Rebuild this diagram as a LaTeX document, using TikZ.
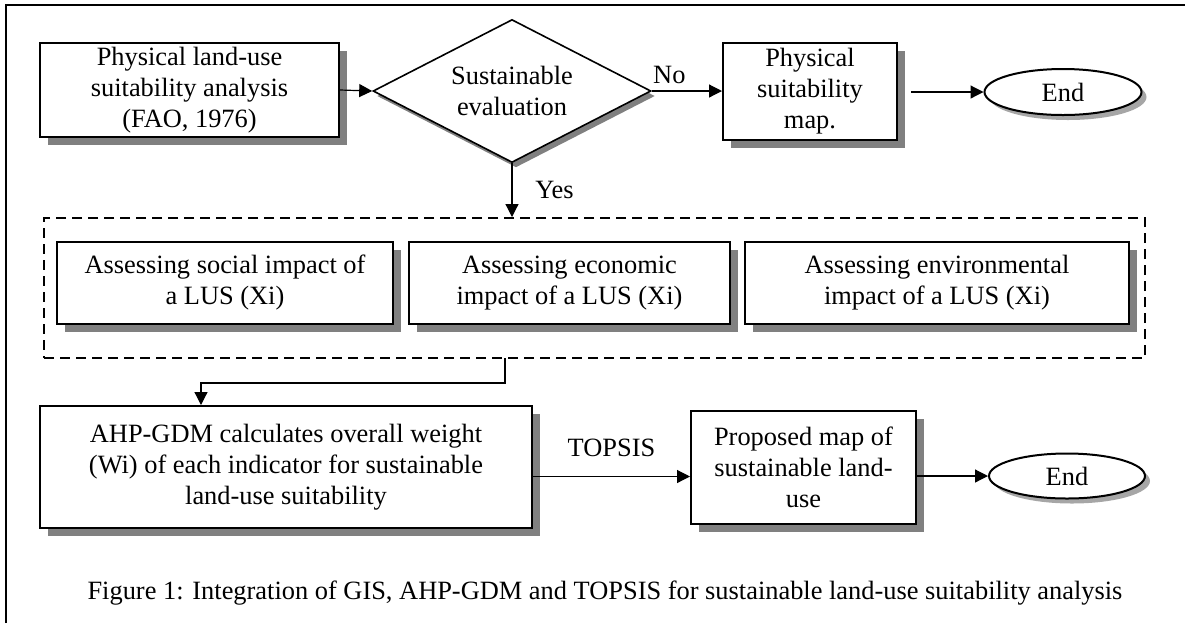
\documentclass[tikz,border=0pt]{standalone}
\usepackage{fontspec}
\setmainfont{Liberation Serif}
\usepackage{tikz}
\usetikzlibrary{shapes.geometric}
\usetikzlibrary{arrows.meta}
\usetikzlibrary{shadows}

\begin{document}
\begin{tikzpicture}[x=0.5pt,y=-0.5pt,font=\fontsize{13.2}{15.5}\selectfont]
		\tikzstyle{box}=[draw,line width=1pt,fill=white,align=center,inner sep=2pt,drop shadow={shadow xshift=4pt,shadow yshift=-4pt,fill=gray,opacity=1}]
		\tikzstyle{decision}=[draw,shape=diamond,line width=0.8pt,fill=white,align=center,aspect=2,inner sep=1pt,minimum width=139pt,minimum height=71.5pt,drop shadow={shadow xshift=2pt,shadow yshift=-2.5pt,fill=gray,opacity=1}]
		\tikzstyle{terminal}=[draw,shape=ellipse,line width=1pt,fill=white,minimum width=78.5pt,minimum height=23pt,inner sep=0pt,drop shadow={shadow xshift=2.5pt,shadow yshift=-2.5pt,fill=gray!70,opacity=1}]
		\tikzstyle{group}=[draw,line width=1pt,dash pattern=on 5pt off 3pt,minimum width=550.5pt,minimum height=70pt]
		\tikzstyle{arr}=[-{Triangle[length=6.5pt,width=6.5pt]},line width=0.6pt]
		
		\useasboundingbox (0,0) rectangle (1185,623);
		\draw[line width=1pt] (6,623) -- (6,5) -- (1185,5);
		
		\node[box,minimum width=149.5pt,minimum height=47pt](phys) at (189.5,90){Physical land-use\\suitability analysis\\(FAO, 1976)};
		\node[decision](sust) at (512,91){Sustainable\\evaluation};
		\node[box,minimum width=87pt,minimum height=48.5pt](map) at (810,91.5){Physical\\suitability\\map.};
		\node[terminal](end1) at (1063,92){End};
		
		\node[group](grp) at (594.5,288){};
		\node[box,minimum width=168pt,minimum height=41pt](soc) at (225,283){Assessing social impact of\\a LUS (Xi)};
		\node[box,minimum width=160.5pt,minimum height=41pt](eco) at (569.5,283){Assessing economic\\impact of a LUS (Xi)};
		\node[box,minimum width=192pt,minimum height=41pt](env) at (937,283){Assessing environmental\\impact of a LUS (Xi)};
		
		\node[box,minimum width=246pt,minimum height=61pt](ahp) at (286,467){AHP-GDM calculates overall weight\\(Wi) of each indicator for sustainable\\land-use suitability};
		\node[box,minimum width=112.5pt,minimum height=56.5pt](prop) at (803.5,467.5){Proposed map of\\sustainable land-\\use};
		\node[terminal,minimum width=78pt,minimum height=22.5pt](end2) at (1067,476){End};
		
		\node(cap) at (605,593){Figure 1: Integration of GIS, AHP-GDM and TOPSIS for sustainable land-use suitability analysis};
		
		\coordinate(tap) at (505,358);
		\coordinate(bend) at (201,383);
		
		\draw[arr] (phys.east) -- (sust.west);
		\draw[arr] (sust.east) -- (sust.east -| map.west) node[above,pos=0.25]{No};
		\draw[arr,shorten <=6.5pt] (map.east |- end1.west) -- (end1.west);
		\draw[arr] (sust.south) -- (sust.south |- grp.north) node[right,midway,xshift=8pt]{Yes};
		
		\draw[arr] (tap) |- (bend) -- (bend |- ahp.north);
		\draw[arr] ([yshift=-4.75pt]ahp.east) -- ([yshift=-4.75pt]ahp.east -| prop.west) node[above=6pt,midway]{TOPSIS};
		\draw[arr] (prop.east |- end2.west) -- (end2.west);
		\end{tikzpicture}
\end{document}
